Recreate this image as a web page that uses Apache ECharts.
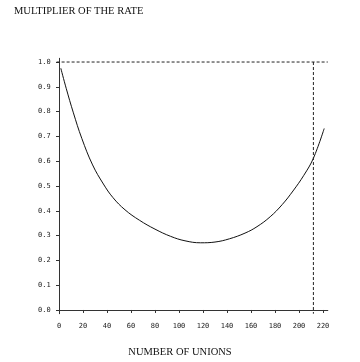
<!DOCTYPE html>
<html><head><meta charset="utf-8">
<script src="https://cdn.jsdelivr.net/npm/echarts@6/dist/echarts.min.js"></script>
<style>html,body{margin:0;padding:0;background:#fff}#c{width:360px;height:362px}</style>
</head><body><div id="c"></div>
<script>
// Data
const unions = [1.5, 6, 12, 19, 28, 37, 45, 55, 67, 80, 93, 105, 118, 130, 142, 155, 165, 176, 186, 195, 204, 212, 221];
const multiplier = [0.975, 0.894, 0.795, 0.692, 0.585, 0.508, 0.453, 0.404, 0.362, 0.326, 0.297, 0.279, 0.271, 0.274, 0.287, 0.310, 0.336, 0.376, 0.425, 0.480, 0.543, 0.612, 0.732];
const xTicks = [0, 20, 40, 60, 80, 100, 120, 140, 160, 180, 200, 220];
const yTicks = [0.0, 0.1, 0.2, 0.3, 0.4, 0.5, 0.6, 0.7, 0.8, 0.9, 1.0];
const refLevel = 1.0;
const refUnions = 212;
const xMin = -2, xMax = 224, yMin = -0.015, yMax = 1.015;

const chart = echarts.init(document.getElementById('c'), null, {renderer: 'canvas'});
const labelFont = {fontFamily: 'DejaVu Sans Mono', fontSize: 7, color: '#222'};
chart.setOption({
  animation: false,
  backgroundColor: '#fff',
  title: [
    {text: 'MULTIPLIER OF THE RATE', left: 14, top: 6, padding: 0,
     textStyle: {fontFamily: 'Liberation Serif', fontWeight: 'normal', fontSize: 10.5, color: '#111'}},
    {text: 'NUMBER OF UNIONS', left: 'center', top: 347, padding: 0,
     textStyle: {fontFamily: 'Liberation Serif', fontWeight: 'normal', fontSize: 10.5, color: '#111'}}
  ],
  grid: {left: 56.6, top: 58.3, width: 271.2, height: 255.4, containLabel: false},
  xAxis: {
    type: 'value', min: xMin, max: xMax,
    axisLine: {show: true, lineStyle: {color: '#333', width: 1}},
    axisTick: {show: true, length: 3, customValues: xTicks, lineStyle: {color: '#333'}},
    axisLabel: Object.assign({margin: 9, customValues: xTicks, formatter: v => String(v)}, labelFont),
    splitLine: {show: false}
  },
  yAxis: {
    type: 'value', min: yMin, max: yMax,
    axisLine: {show: true, lineStyle: {color: '#333', width: 1}},
    axisTick: {show: true, length: 3, customValues: yTicks, lineStyle: {color: '#333'}},
    axisLabel: Object.assign({margin: 6, customValues: yTicks, formatter: v => v.toFixed(1)}, labelFont),
    splitLine: {show: false}
  },
  series: [
    {type: 'line', data: unions.map((u, i) => [u, multiplier[i]]), smooth: 0.4, symbol: 'none',
     lineStyle: {color: '#111', width: 1}},
    {type: 'line', data: [[xMin, refLevel], [xMax, refLevel]], symbol: 'none',
     lineStyle: {color: '#222', width: 1, type: [3, 2]}},
    {type: 'line', data: [[refUnions, refLevel], [refUnions, yMin]], symbol: 'none',
     lineStyle: {color: '#222', width: 1, type: [3, 2]}}
  ]
});
</script></body></html>
